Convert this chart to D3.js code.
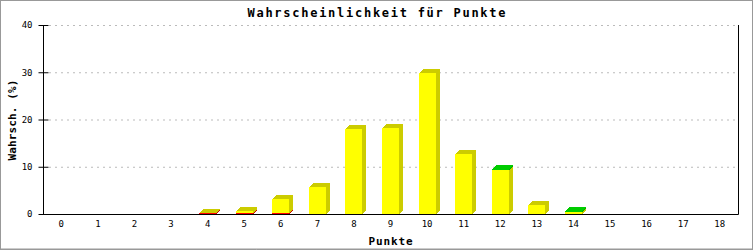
<!DOCTYPE html>
<html>
<head>
<meta charset="utf-8">
<script src="https://cdn.jsdelivr.net/npm/d3@7"></script>
<style>
  body { margin: 0; background: #fff; }
  svg { display: block; }
  .tick text { font-family: "DejaVu Sans Mono", monospace; font-size: 9px; fill: #000; }
</style>
</head>
<body>
<div id="chart"></div>
<script>
// DATA
const punkte = [0,1,2,3,4,5,6,7,8,9,10,11,12,13,14,15,16,17,18];
const rot   = [0,0,0,0,0.2,0.2,0.2,0,0,0,0,0,0,0,0,0,0,0,0];
const gelb  = [0,0,0,0,0.1,0.4,3.0,5.8,17.9,18.3,29.8,12.8,9.3,1.9,0.4,0,0,0,0];
const gruen = [0,0,0,0,0,0,0,0,0,0,0,0,0.3,0,0.2,0,0,0,0];
const yTicks = [0,10,20,30,40];

const W = 753, H = 250;
const margin = { top: 25, right: 15, bottom: 36, left: 43 };

const svg = d3.select("#chart").append("svg")
    .attr("width", W).attr("height", H);

// frame
svg.append("rect")
    .attr("x", 0.5).attr("y", 0.5).attr("width", W - 1).attr("height", H - 1.5)
    .attr("fill", "#fff").attr("stroke", "#999");
svg.append("line")
    .attr("x1", 0).attr("x2", W).attr("y1", H - 0.5).attr("y2", H - 0.5)
    .attr("stroke", "#999");

const x0 = margin.left, x1 = W - margin.right;
const yTop = margin.top, yBase = H - margin.bottom;

const x = d3.scaleBand()
    .domain(punkte)
    .range([x0, x1])
    .paddingInner(0.535).paddingOuter(0.535 / 2);
const y = d3.scaleLinear().domain([0, 40]).range([yBase, yTop]);

// GRID
svg.append("g").selectAll("line")
    .data(yTicks.filter(t => t > 0))
    .join("line")
    .attr("x1", x0 + 6).attr("x2", x1)
    .attr("y1", d => y(d) + 0.5).attr("y2", d => y(d) + 0.5)
    .attr("stroke", "#bbb").attr("stroke-dasharray", "2,4");

// BARS (stacked, 3d look)
const table = punkte.map((p, i) => ({ p: p, rot: rot[i], gelb: gelb[i], gruen: gruen[i] }));
const keys = ["rot", "gelb", "gruen"];
const front = { rot: "#ff0000", gelb: "#ffff00", gruen: "#00cc00" };
const side  = { rot: "#cc0000", gelb: "#cccc00", gruen: "#00aa00" };
const topc  = { rot: "#cc0000", gelb: "#cccc00", gruen: "#00cc00" };
const series = d3.stack().keys(keys)(table);
const depth = 4;

const bars = svg.append("g").attr("shape-rendering", "crispEdges");
punkte.forEach((p, i) => {
    series.forEach(s => {
        const seg = s[i];
        if (seg[1] - seg[0] <= 0) return;
        const k = s.key;
        const bx = Math.round(x(p));
        const bw = Math.round(x.bandwidth());
        const yt = Math.round(y(seg[1])), yb = Math.round(y(seg[0]));
        // side
        bars.append("polygon")
            .attr("points", [[bx + bw, yt], [bx + bw + depth, yt - depth],
                             [bx + bw + depth, yb - depth], [bx + bw, yb]].join(" "))
            .attr("fill", side[k]);
        // top
        bars.append("polygon")
            .attr("points", [[bx, yt], [bx + depth, yt - depth],
                             [bx + bw + depth, yt - depth], [bx + bw, yt]].join(" "))
            .attr("fill", topc[k]);
        // front
        bars.append("rect")
            .attr("x", bx).attr("y", yt)
            .attr("width", bw).attr("height", yb - yt)
            .attr("fill", front[k]);
    });
});

// AXES
const yAxis = svg.append("g")
    .attr("transform", "translate(" + (x0 + 0.5) + ",0)")
    .call(d3.axisLeft(y).tickValues(yTicks).tickSize(5).tickPadding(6).tickFormat(d3.format("d")));
yAxis.selectAll(".tick line").attr("x2", -5).attr("x1", 5);
yAxis.selectAll(".tick").attr("transform", d => "translate(0," + (y(d) + 0.5) + ")");
yAxis.select(".domain").attr("d", "M0," + yTop + "V" + (yBase + 0.5));

const xAxis = svg.append("g")
    .attr("transform", "translate(0," + (yBase + 0.5) + ")")
    .call(d3.axisBottom(x).tickSize(0).tickPadding(6));
xAxis.select(".domain").attr("d", "M" + x0 + ",0H" + (x1 + 0.5));

// right border of plot
svg.append("line")
    .attr("x1", x1 + 0.5).attr("x2", x1 + 0.5)
    .attr("y1", yTop).attr("y2", yBase + 0.5)
    .attr("stroke", "#000");

// TITLES
svg.append("text")
    .attr("x", W / 2).attr("y", 17)
    .attr("text-anchor", "middle")
    .attr("textLength", 258).attr("lengthAdjust", "spacing")
    .style("font-family", "DejaVu Sans Mono, monospace")
    .style("font-weight", "bold").style("font-size", "12px")
    .text("Wahrscheinlichkeit für Punkte");

svg.append("text")
    .attr("transform", "translate(16," + 120 + ") rotate(-90)")
    .attr("text-anchor", "middle")
    .attr("textLength", 81).attr("lengthAdjust", "spacing")
    .style("font-family", "DejaVu Sans Mono, monospace")
    .style("font-weight", "bold").style("font-size", "11px")
    .text("Wahrsch. (%)");

svg.append("text")
    .attr("x", (x0 + x1) / 2).attr("y", 245)
    .attr("text-anchor", "middle")
    .attr("textLength", 44).attr("lengthAdjust", "spacing")
    .style("font-family", "DejaVu Sans Mono, monospace")
    .style("font-weight", "bold").style("font-size", "11px")
    .text("Punkte");
</script>
</body>
</html>
